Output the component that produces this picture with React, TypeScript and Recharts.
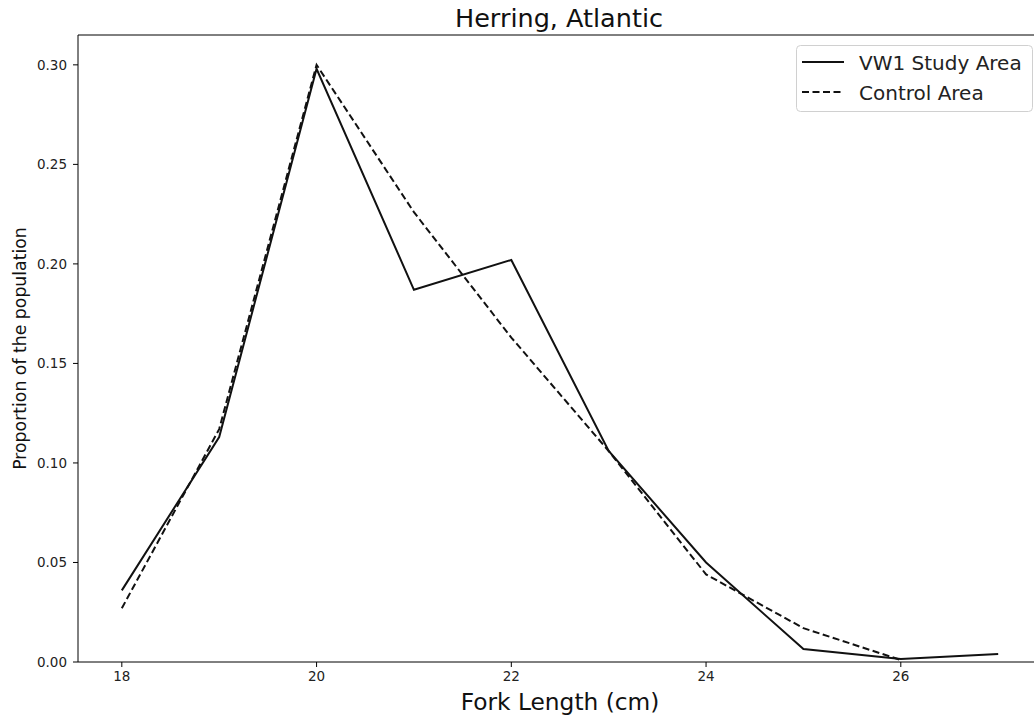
import React from "react";
import { LineChart, Line, XAxis, YAxis, Label, ReferenceLine } from "recharts";

const forkLengths = [18, 19, 20, 21, 22, 23, 24, 25, 26, 27];
const vw1Values = [0.036, 0.113, 0.298, 0.187, 0.202, 0.106, 0.05, 0.0065, 0.0015, 0.004];
const controlValues: (number | null)[] = [0.027, 0.117, 0.3, 0.226, 0.163, 0.106, 0.044, 0.017, 0.001, null];
const xTicks = [18, 20, 22, 24, 26];
const yTicks = [0, 0.05, 0.1, 0.15, 0.2, 0.25, 0.3];
const legendItems = [
  { name: "VW1 Study Area", dash: undefined as string | undefined },
  { name: "Control Area", dash: "7 3.5" },
];
const titleText = "Herring, Atlantic";

const data = forkLengths.map((x, i) => ({ x, vw1: vw1Values[i], control: controlValues[i] }));

const FONT = "'DejaVu Sans', sans-serif";

const Overlay = () => (
  <svg
    width={1034}
    height={719}
    style={{ position: "absolute", left: 0, top: 0, pointerEvents: "none" }}
  >
    <text x={559} y={27} textAnchor="middle" fontFamily={FONT} fontSize={25.5} fill="#111">
      {titleText}
    </text>
    <rect x={796.5} y={45.5} width={236} height={66} rx={4} fill="rgba(255,255,255,0.8)" stroke="#d0d0d0" />
    {legendItems.map((e, i) => (
      <g key={e.name}>
        <line x1={802} x2={844} y1={62 + i * 30} y2={62 + i * 30} stroke="#111" strokeWidth={2} strokeDasharray={e.dash} />
        <text x={859} y={70 + i * 30} fontFamily={FONT} fontSize={20} fill="#222">
          {e.name}
        </text>
      </g>
    ))}
  </svg>
);

export default function App() {
  return (
    <div style={{ position: "absolute", left: 0, top: 0, width: 1034, height: 719, overflow: "hidden", background: "#fff" }}>
      <LineChart width={1042} height={719} data={data} margin={{ top: 35, right: 0, bottom: 0, left: 0 }}>
        <XAxis
          dataKey="x"
          type="number"
          domain={[17.55, 27.45]}
          ticks={xTicks}
          allowDataOverflow
          height={57}
          stroke="#000"
          tickSize={5}
          tickMargin={4}
          tick={{ fill: "#222", fontSize: 13.5, fontFamily: FONT }}
          tickLine={{ stroke: "#000" }}
        >
          <Label value="Fork Length (cm)" position="insideBottom" offset={9} style={{ fill: "#111", fontSize: 23.3, fontFamily: FONT }} />
        </XAxis>
        <YAxis
          type="number"
          domain={[0, 0.315]}
          ticks={yTicks}
          allowDataOverflow
          width={78}
          stroke="#000"
          tickSize={5}
          tickMargin={6}
          tickFormatter={(v: number) => v.toFixed(2)}
          tick={{ fill: "#222", fontSize: 13.5, fontFamily: FONT }}
          tickLine={{ stroke: "#000" }}
        >
          <Label
            value="Proportion of the population"
            angle={-90}
            position="insideLeft"
            offset={0}
            dx={20}
            style={{ fill: "#111", fontSize: 17.3, fontFamily: FONT, textAnchor: "middle" }}
          />
        </YAxis>
        <ReferenceLine y={0.315} stroke="#000" strokeWidth={1} />
        <Line
          dataKey="vw1"
          name="VW1 Study Area"
          stroke="#111"
          strokeWidth={2}
          dot={false}
          type="linear"
          isAnimationActive={false}
        />
        <Line
          dataKey="control"
          name="Control Area"
          stroke="#111"
          strokeWidth={2}
          strokeDasharray="7 3.5"
          dot={false}
          type="linear"
          isAnimationActive={false}
        />
      </LineChart>
      <Overlay />
    </div>
  );
}
